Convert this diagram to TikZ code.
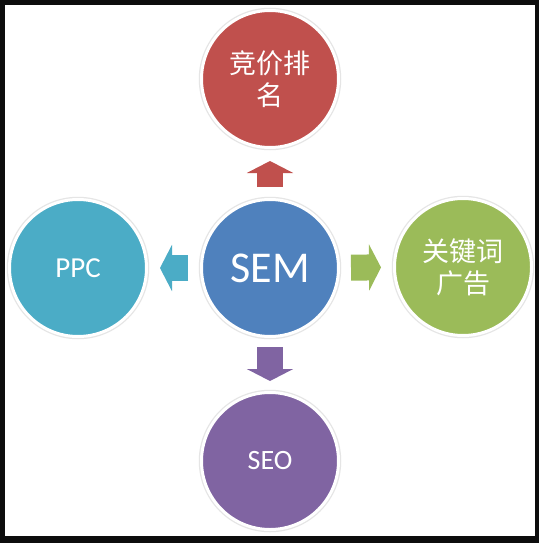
\documentclass[tikz,border=0pt]{standalone}
\usepackage{fontspec}
\setmainfont{Carlito}
\newfontfamily\cjkfont{Noto Sans CJK SC}
\usepackage{tikz}
\usetikzlibrary{arrows.meta}
\definecolor{semred}{HTML}{C0504D}
\definecolor{semblue}{HTML}{4F81BD}
\definecolor{semteal}{HTML}{4BACC6}
\definecolor{semgreen}{HTML}{9BBB59}
\definecolor{sempurple}{HTML}{8064A2}

\begin{document}
\begin{tikzpicture}[x=1pt,y=-1pt,
  bubble/.style={circle,minimum size=137pt,inner sep=0pt,fill=#1,draw=white,
    line width=3pt,text=white,align=center,
    preaction={draw=black!10,line width=5.5pt}},
  cjk/.style={font=\cjkfont\fontsize{27}{32}\selectfont},
  latin/.style={font=\fontsize{#1}{#1}\selectfont},
  blockarrow/.style={draw=#1,line width=26pt,
    -{Triangle[length=12pt,width=46pt,fill=#1]}}]
\path[use as bounding box] (0,0) rectangle (539,543);
\fill[black!95] (0,0) rectangle (539,543);
\fill[white] (5,5) rectangle (535,536);

% 五个圆
\node[bubble=semred,cjk] (bid) at (270,79) {竞价排\\名};
\node[bubble=semteal,latin=29] (ppc) at (78,268) {PPC};
\node[bubble=semblue,latin=44] (sem) at (270,268) {SEM};
\node[bubble=semgreen,cjk] (kw) at (463,267) {关键词\\广告};
\node[bubble=sempurple,latin=28] (seo) at (270,461) {SEO};

% 箭头
\draw[blockarrow=semred,shorten <=11pt,shorten >=12pt] (sem) -- (bid);
\draw[blockarrow=semteal,shorten <=12pt,shorten >=12pt] (sem) -- (ppc);
\draw[blockarrow=semgreen,shorten <=11pt,shorten >=12pt] (sem) -- (kw);
\draw[blockarrow=sempurple,shorten <=9pt,shorten >=10pt] (sem) -- (seo);
\end{tikzpicture}
\end{document}
